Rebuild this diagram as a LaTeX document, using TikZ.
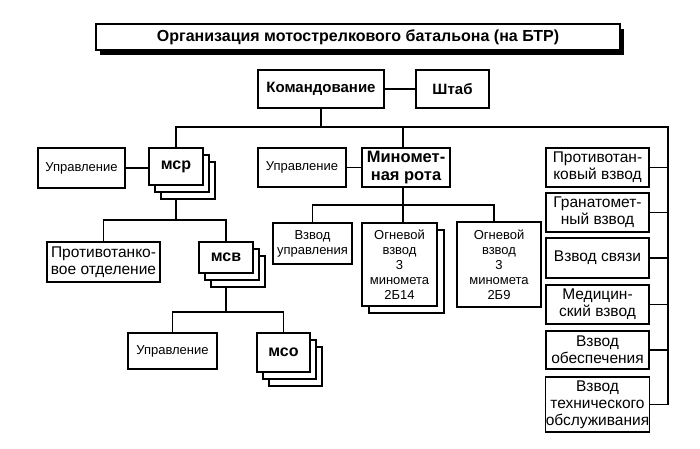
\documentclass[tikz,border=0pt]{standalone}
\usepackage{fontspec}
\setmainfont{Liberation Sans}
\usetikzlibrary{shadows,backgrounds}
\tikzset{
  box/.style={draw, line width=1.3pt, fill=white, inner sep=0pt, align=center},
  stack/.style={double copy shadow={shadow xshift=6pt, shadow yshift=-7pt, draw=black, fill=white, line width=1.3pt}},
  single/.style={copy shadow={shadow xshift=7pt, shadow yshift=-7pt, draw=black, fill=white, line width=1.3pt}},
  conn/.style={line width=1.3pt},
  fA/.style={font=\fontsize{13}{15}\selectfont},
  fB/.style={font=\fontsize{15}{17}\selectfont\bfseries},
  fS/.style={font=\fontsize{16}{18}\selectfont\bfseries},
  fC/.style={font=\fontsize{15.5}{17}\selectfont},
  fD/.style={font=\fontsize{16.5}{18}\selectfont\bfseries},
  fT/.style={font=\fontsize{16}{18}\selectfont\bfseries},
}
\begin{document}
\begin{tikzpicture}[x=1pt,y=-1pt]
\useasboundingbox (0,0) rectangle (700,448);
% title
\node[box, fT, drop shadow={shadow xshift=3.5pt, shadow yshift=-4.5pt, fill=black, opacity=1},
  minimum width=524pt, minimum height=26pt] (title) at (358,37)
  {Организация мотострелкового батальона (на БТР)};
% top
\node[box, fB, minimum width=126pt, minimum height=38pt] (cmd) at (321,89) {Командование};
\node[box, fB, minimum width=73pt, minimum height=38pt] (shtab) at (452.5,89) {Штаб};
% left branch
\node[box, fS, stack, minimum width=54pt, minimum height=37pt] (msr) at (176,166.5) {мср};
\node[box, fA, minimum width=87pt, minimum height=40pt] (upr1) at (81.5,168) {Управление};
\node[box, fC, minimum width=113pt, minimum height=40pt] (pto) at (103.5,262) {Противотанко-\\вое отделение};
\node[box, fS, stack, minimum width=54pt, minimum height=31pt] (msv) at (226,257.5) {мсв};
\node[box, fA, minimum width=89pt, minimum height=36pt] (upr3) at (172.5,351) {Управление};
\node[box, fS, stack, minimum width=53pt, minimum height=39pt] (mso) at (283.5,352.5) {мсо};
% mortar company
\node[box, fA, minimum width=88pt, minimum height=39pt] (upr2) at (302,167.5) {Управление};
\node[box, fD, minimum width=88pt, minimum height=39pt] (minrota) at (406,167.5) {Миномет-\\ная рота};
\node[box, fA, minimum width=79pt, minimum height=41pt] (vzupr) at (312.5,243.5) {Взвод\\управления};
\node[box, fA, single, minimum width=75pt, minimum height=83pt] (og1) at (399.5,264.5) {Огневой\\взвод\\3\\миномета\\2Б14};
\node[box, fA, minimum width=84pt, minimum height=85pt] (og2) at (499,264.5) {Огневой\\взвод\\3\\миномета\\2Б9};
% right column
\node[box, fC, minimum width=103pt, minimum height=39pt] (r1) at (597.5,167.5) {Противотан-\\ковый взвод};
\node[box, fC, minimum width=103pt, minimum height=39pt] (r2) at (597.5,212.5) {Гранатомет-\\ный взвод};
\node[box, fC, minimum width=103pt, minimum height=40pt] (r3) at (597.5,258) {Взвод связи};
\node[box, fC, minimum width=103pt, minimum height=39pt] (r4) at (597.5,304.5) {Медицин-\\ский взвод};
\node[box, fC, minimum width=103pt, minimum height=38pt] (r5) at (597.5,350) {Взвод\\обеспечения};
\node[box, fC, minimum width=103pt, minimum height=55pt] (r6) at (597.5,404.5) {Взвод\\технического\\обслуживания};
% connectors
\coordinate (hR) at (668,127);
\coordinate (mx) at (403,127);
\coordinate (hm) at (494,205);
\coordinate (h2) at (0,220);
\coordinate (h3) at (0,312);
\begin{scope}[on background layer]
\draw[conn] (cmd) -- (shtab);
\draw[conn] (cmd.south) -- (cmd.south |- hR);
\draw[conn] (msr.north) -- (msr.north |- hR) -- (hR) -- (hR |- r6.east);
\foreach \r in {r1,r2,r3,r4,r5,r6} \draw[conn] (\r.east) -- (\r.east -| hR);
\draw[conn] (upr1.east) -- (upr1.east -| msr.west);
\draw[conn] (mx) -- (mx |- minrota.north);
\draw[conn] (upr2) -- (minrota);
\draw[conn] (mx |- minrota.south) -- (mx |- og1.north);
\draw[conn] (vzupr.north) -- (vzupr.north |- hm) -- (hm) -- (hm |- og2.north);
\draw[conn] (msr.south) -- (msr.south |- h2);
\draw[conn] (pto.north) -- (pto.north |- h2) -- (msv.north |- h2) -- (msv.north);
\draw[conn] (msv.south) -- (msv.south |- h3);
\draw[conn] (upr3.north) -- (upr3.north |- h3) -- (mso.north |- h3) -- (mso.north);
\end{scope}
\end{tikzpicture}
\end{document}
